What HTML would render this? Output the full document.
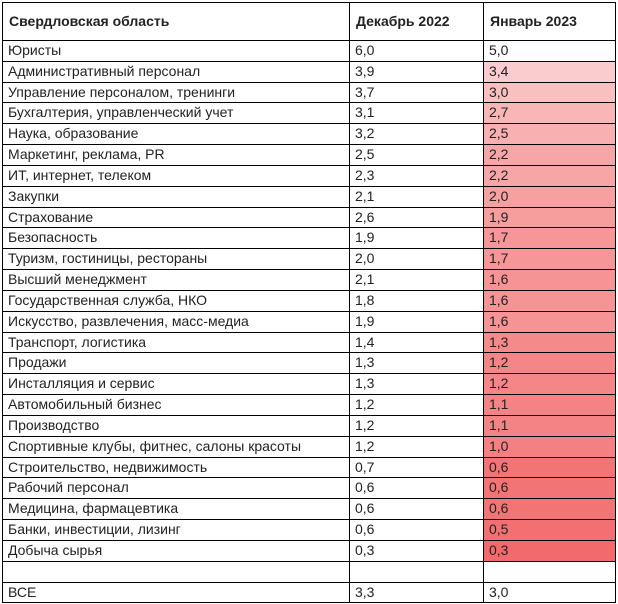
<!DOCTYPE html>
<html><head><meta charset="utf-8"><style>
html,body{margin:0;padding:0;background:#fff;width:618px;height:604px;overflow:hidden}
#t{position:absolute;left:2px;top:2px;width:614px;border-top:1px solid #000;border-left:1px solid #000;border-right:1px solid #000;box-sizing:border-box;font-family:"Liberation Sans",Arial,sans-serif;font-size:14px;color:#222}
.r{display:flex;height:20.84px;border-bottom:1px solid #000;box-sizing:border-box}
.r div{box-sizing:border-box;padding-left:5px;line-height:19px;white-space:nowrap;overflow:hidden}
.a{width:346px}
.b{width:134px;border-left:1px solid #000}
.c{flex:1;border-left:1px solid #000}
.h{height:38px;font-weight:bold}
.h div{line-height:36px;padding-left:6px}
</style></head><body>
<div id="t">
<div class="r h"><div class="a">Свердловская область</div><div class="b">Декабрь 2022</div><div class="c">Январь 2023</div></div>
<div class="r"><div class="a">Юристы</div><div class="b">6,0</div><div class="c" style="background:#fdfdff">5,0</div></div>
<div class="r"><div class="a">Административный персонал</div><div class="b">3,9</div><div class="c" style="background:rgb(251,204,205)">3,4</div></div>
<div class="r"><div class="a">Управление персоналом, тренинги</div><div class="b">3,7</div><div class="c" style="background:rgb(249,192,192)">3,0</div></div>
<div class="r"><div class="a">Бухгалтерия, управленческий учет</div><div class="b">3,1</div><div class="c" style="background:rgb(249,182,183)">2,7</div></div>
<div class="r"><div class="a">Наука, образование</div><div class="b">3,2</div><div class="c" style="background:rgb(248,176,177)">2,5</div></div>
<div class="r"><div class="a">Маркетинг, реклама, PR</div><div class="b">2,5</div><div class="c" style="background:rgb(247,166,167)">2,2</div></div>
<div class="r"><div class="a">ИТ, интернет, телеком</div><div class="b">2,3</div><div class="c" style="background:rgb(247,166,167)">2,2</div></div>
<div class="r"><div class="a">Закупки</div><div class="b">2,1</div><div class="c" style="background:rgb(247,160,161)">2,0</div></div>
<div class="r"><div class="a">Страхование</div><div class="b">2,6</div><div class="c" style="background:rgb(246,157,158)">1,9</div></div>
<div class="r"><div class="a">Безопасность</div><div class="b">1,9</div><div class="c" style="background:rgb(246,150,152)">1,7</div></div>
<div class="r"><div class="a">Туризм, гостиницы, рестораны</div><div class="b">2,0</div><div class="c" style="background:rgb(246,150,152)">1,7</div></div>
<div class="r"><div class="a">Высший менеджмент</div><div class="b">2,1</div><div class="c" style="background:rgb(246,147,149)">1,6</div></div>
<div class="r"><div class="a">Государственная служба, НКО</div><div class="b">1,8</div><div class="c" style="background:rgb(246,147,149)">1,6</div></div>
<div class="r"><div class="a">Искусство, развлечения, масс-медиа</div><div class="b">1,9</div><div class="c" style="background:rgb(246,147,149)">1,6</div></div>
<div class="r"><div class="a">Транспорт, логистика</div><div class="b">1,4</div><div class="c" style="background:rgb(245,138,139)">1,3</div></div>
<div class="r"><div class="a">Продажи</div><div class="b">1,3</div><div class="c" style="background:rgb(244,134,136)">1,2</div></div>
<div class="r"><div class="a">Инсталляция и сервис</div><div class="b">1,3</div><div class="c" style="background:rgb(244,134,136)">1,2</div></div>
<div class="r"><div class="a">Автомобильный бизнес</div><div class="b">1,2</div><div class="c" style="background:rgb(244,131,133)">1,1</div></div>
<div class="r"><div class="a">Производство</div><div class="b">1,2</div><div class="c" style="background:rgb(244,131,133)">1,1</div></div>
<div class="r"><div class="a">Спортивные клубы, фитнес, салоны красоты</div><div class="b">1,2</div><div class="c" style="background:rgb(244,128,130)">1,0</div></div>
<div class="r"><div class="a">Строительство, недвижимость</div><div class="b">0,7</div><div class="c" style="background:rgb(243,116,117)">0,6</div></div>
<div class="r"><div class="a">Рабочий персонал</div><div class="b">0,6</div><div class="c" style="background:rgb(243,116,117)">0,6</div></div>
<div class="r"><div class="a">Медицина, фармацевтика</div><div class="b">0,6</div><div class="c" style="background:rgb(243,116,117)">0,6</div></div>
<div class="r"><div class="a">Банки, инвестиции, лизинг</div><div class="b">0,6</div><div class="c" style="background:rgb(243,112,114)">0,5</div></div>
<div class="r"><div class="a">Добыча сырья</div><div class="b">0,3</div><div class="c" style="background:rgb(242,106,108)">0,3</div></div>
<div class="r"><div class="a"></div><div class="b"></div><div class="c"></div></div>
<div class="r"><div class="a">ВСЕ</div><div class="b">3,3</div><div class="c">3,0</div></div>
</div>
</body></html>
